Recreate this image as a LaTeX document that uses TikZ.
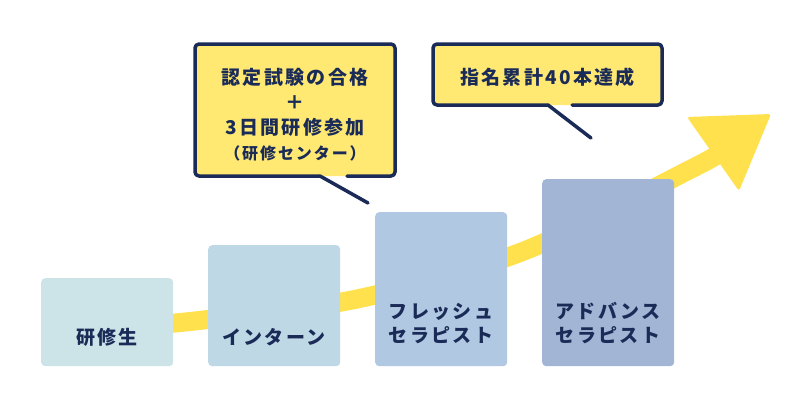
\documentclass[tikz,border=0pt]{standalone}
\usepackage{fontspec}
\newfontfamily\jp[LetterSpace=12]{Noto Sans CJK JP}
\definecolor{navy}{RGB}{27,43,87}
\definecolor{arrowy}{RGB}{255,225,77}
\definecolor{cally}{RGB}{255,233,115}
\definecolor{s1}{RGB}{204,228,232}
\definecolor{s2}{RGB}{190,216,230}
\definecolor{s3}{RGB}{176,200,225}
\definecolor{s4}{RGB}{162,181,213}
\tikzset{
  stage/.style={rounded corners=4pt, inner sep=0pt, minimum width=132, anchor=north west},
  lbl/.style={text=navy, font=\jp\bfseries\fontsize{19}{24}\selectfont, align=center, inner sep=0pt},
  border/.style={draw=navy, line width=3.5pt, line cap=round, line join=round},
}
\begin{document}
\begin{tikzpicture}[x=1pt,y=-1pt]
\useasboundingbox (0,0) rectangle (800,400);
% yellow arrow
\draw[arrowy, line width=19pt] plot[smooth, tension=0.5] coordinates {(100,328) (190,321.5) (357,299) (524,251) (693,168) (716,155)};
\fill[arrowy, rounded corners=2.5pt] (687,117) -- (771,114) -- (739,191) -- cycle;
% stages
\node[stage, fill=s1, minimum height=88] (b1) at (41,278) {};
\node[stage, fill=s2, minimum height=121] (b2) at (208,245) {};
\node[stage, fill=s3, minimum height=154] (b3) at (375,212) {};
\node[stage, fill=s4, minimum height=187] (b4) at (542,179) {};
\node[lbl] (t1) at (107,337) {研修生};
\node[lbl] (t2) at (274,337) {インターン};
\node[lbl] (t3) at (441,323) {フレッシュ\\セラピスト};
\node[lbl] (t4) at (608,323) {アドバンス\\セラピスト};
% callout 1
\node[fill=cally, rounded corners=4pt, minimum width=200, minimum height=132, inner sep=0pt, anchor=north west] (c1) at (195,44) {};
\coordinate (c1tip) at (368,203);
\draw[border, rounded corners=4pt] (347,176) -- (395,176) -- (395,44) -- (195,44) -- (195,176) -- (320,176);
\draw[border] (320,176) -- (c1tip);
\node[lbl, font=\jp\bfseries\fontsize{19}{25}\selectfont] (c1t) at (295,114.5) {認定試験の合格\\＋\\3日間研修参加\\{\fontsize{16}{25}\selectfont （研修センター）}};
% callout 2
\node[fill=cally, rounded corners=4pt, minimum width=229, minimum height=61, inner sep=0pt, anchor=north west] (c2) at (433,44) {};
\coordinate (c2tip) at (591,138);
\draw[border, rounded corners=4pt] (572,105) -- (662,105) -- (662,44) -- (433,44) -- (433,105) -- (548,105);
\draw[border] (548,105) -- (c2tip);
\node[lbl] (c2t) at (547.5,77) {指名累計40本達成};
\end{tikzpicture}
\end{document}
